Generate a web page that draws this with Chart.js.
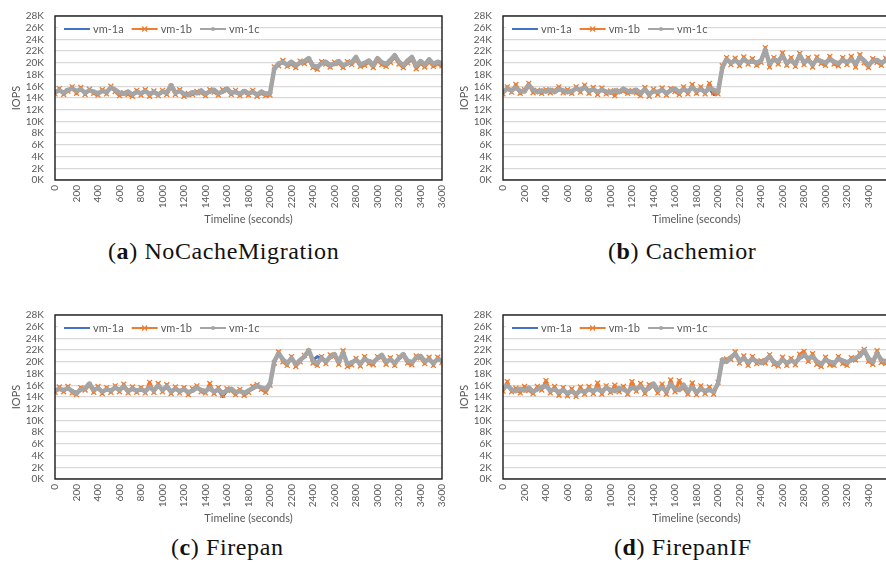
<!DOCTYPE html>
<html lang="en">
<head>
<meta charset="UTF-8">
<title>IOPS timelines</title>
<script src="https://cdn.jsdelivr.net/npm/chart.js"></script>
<style>
    html, body { margin: 0; padding: 0; background: #fff; }
    body { width: 886px; height: 568px; overflow: hidden; position: relative; }
    .panel { position: absolute; width: 450px; height: 226px; }
    .panel canvas { width: 450px; height: 226px; display: block; }
    .cap { position: absolute; font-family: "Liberation Serif", serif; font-size: 24px; letter-spacing: 0.6px; color: #111; white-space: nowrap; }
    .cap b { font-weight: bold; }
</style>
</head>
<body>
<div class="panel" style="left:0px;top:0px"><canvas id="chartA" width="450" height="226"></canvas></div>
<div class="panel" style="left:448px;top:0px"><canvas id="chartB" width="450" height="226"></canvas></div>
<div class="panel" style="left:0px;top:299px"><canvas id="chartC" width="450" height="226"></canvas></div>
<div class="panel" style="left:448px;top:299px"><canvas id="chartD" width="450" height="226"></canvas></div>
<div class="cap" style="left:108px;top:238px">(<b>a</b>) NoCacheMigration</div>
<div class="cap" style="left:608px;top:238px">(<b>b</b>) Cachemior</div>
<div class="cap" style="left:171px;top:534px">(<b>c</b>) Firepan</div>
<div class="cap" style="left:614px;top:534px">(<b>d</b>) FirepanIF</div>

<script>
// seconds
const times = [
    0, 40, 80, 120, 160, 200, 240, 280, 320, 360,
    400, 440, 480, 520, 560, 600, 640, 680, 720, 760,
    800, 840, 880, 920, 960, 1000, 1040, 1080, 1120, 1160,
    1200, 1240, 1280, 1320, 1360, 1400, 1440, 1480, 1520, 1560,
    1600, 1640, 1680, 1720, 1760, 1800, 1840, 1880, 1920, 1960,
    2000, 2040, 2080, 2120, 2160, 2200, 2240, 2280, 2320, 2360,
    2400, 2440, 2480, 2520, 2560, 2600, 2640, 2680, 2720, 2760,
    2800, 2840, 2880, 2920, 2960, 3000, 3040, 3080, 3120, 3160,
    3200, 3240, 3280, 3320, 3360, 3400, 3440, 3480, 3520, 3560,
    3600
];
const seriesNames = ['vm-1a', 'vm-1b', 'vm-1c'];

// IOPS in thousands
// (a) NoCacheMigration
const noCache1a = [
    15.1, 15.2, 15.0, 15.3, 15.5, 15.1, 15.4, 15.0, 15.2, 15.0,
    14.9, 15.1, 15.1, 15.7, 15.3, 15.0, 14.8, 15.0, 14.7, 15.1,
    14.9, 15.1, 14.8, 15.1, 14.7, 15.0, 15.0, 16.0, 15.0, 15.1,
    14.8, 14.6, 14.9, 14.9, 15.2, 14.8, 15.0, 15.3, 14.9, 15.0,
    15.5, 15.0, 15.0, 14.8, 15.1, 14.9, 15.0, 14.7, 15.0, 14.8,
    14.9, 18.8, 19.8, 20.0, 19.8, 20.1, 19.7, 19.9, 20.2, 20.7,
    19.6, 19.4, 19.8, 20.1, 19.7, 19.9, 20.2, 19.6, 19.8, 20.0,
    20.9, 19.8, 19.9, 20.3, 19.7, 20.7, 20.0, 19.9, 20.4, 21.2,
    20.1, 19.7, 20.3, 20.9, 19.6, 20.2, 19.8, 20.5, 19.9, 20.1,
    19.8
];
const noCache1b = [
    14.7, 15.6, 14.6, 15.2, 15.9, 14.8, 15.8, 14.6, 15.5, 14.8,
    14.5, 15.4, 14.7, 16.0, 15.1, 14.4, 14.9, 14.6, 14.3, 15.3,
    14.5, 15.4, 14.3, 15.2, 14.4, 15.3, 14.6, 15.9, 14.6, 15.4,
    14.3, 14.8, 14.6, 15.1, 14.9, 14.4, 15.4, 15.0, 14.5, 15.4,
    15.3, 14.6, 15.3, 14.4, 15.0, 14.5, 15.3, 14.3, 14.8, 14.4,
    14.5, 19.3, 19.5, 20.4, 19.4, 19.8, 19.2, 20.3, 19.9, 20.5,
    19.2, 18.9, 20.2, 19.8, 19.3, 20.1, 19.9, 19.2, 20.2, 19.7,
    20.6, 19.4, 19.6, 20.1, 19.2, 20.4, 19.7, 19.4, 20.1, 20.9,
    19.8, 19.2, 20.0, 20.6, 19.0, 19.9, 19.3, 20.2, 19.4, 19.8,
    19.5
];
const noCache1c = [
    15.0, 15.3, 14.9, 15.4, 15.6, 15.2, 15.5, 14.9, 15.3, 15.1,
    14.8, 15.2, 15.0, 15.8, 15.4, 14.9, 14.7, 15.1, 14.6, 15.0,
    14.8, 15.2, 14.7, 15.0, 14.6, 15.1, 14.9, 16.2, 14.9, 15.2,
    14.7, 14.5, 15.0, 14.8, 15.3, 14.7, 15.1, 15.4, 14.8, 15.1,
    15.6, 14.9, 15.0, 14.7, 15.2, 14.8, 15.0, 14.6, 15.1, 14.7,
    14.8, 19.0, 19.9, 20.1, 19.7, 20.2, 19.6, 20.0, 20.3, 20.8,
    19.5, 19.3, 19.9, 20.2, 19.6, 19.8, 20.3, 19.5, 19.9, 20.1,
    21.0, 19.7, 20.0, 20.4, 19.6, 20.8, 20.1, 19.8, 20.5, 21.3,
    20.2, 19.6, 20.4, 21.0, 19.5, 20.3, 19.7, 20.6, 19.8, 20.2,
    19.9
];

// (b) Cachemior
const cachemior1a = [
    15.1, 15.5, 15.2, 15.7, 15.1, 15.2, 16.0, 15.3, 15.1, 15.2,
    15.2, 15.3, 15.1, 15.4, 15.2, 15.1, 15.1, 15.5, 15.3, 15.7,
    15.3, 15.4, 15.1, 15.3, 15.0, 15.0, 15.2, 15.1, 15.5, 15.1,
    15.1, 15.3, 14.9, 15.4, 14.7, 15.1, 15.1, 15.3, 14.9, 15.2,
    15.5, 15.1, 15.4, 15.2, 15.7, 15.3, 15.4, 15.1, 15.6, 14.6,
    14.8, 19.0, 20.5, 20.1, 20.3, 20.0, 20.5, 20.0, 20.2, 20.1,
    20.3, 22.0, 19.9, 20.5, 20.2, 21.0, 20.1, 20.3, 19.9, 21.1,
    20.2, 20.4, 19.8, 20.5, 20.2, 20.1, 20.6, 20.1, 20.0, 20.4,
    20.2, 20.5, 19.9, 20.8, 20.3, 19.7, 20.2, 20.4, 20.1, 20.3,
    20.1
];
const cachemior1b = [
    14.7, 15.9, 15.0, 16.3, 14.8, 15.4, 16.5, 14.9, 15.3, 14.8,
    15.4, 14.9, 15.3, 15.9, 14.9, 15.4, 14.8, 15.9, 15.0, 16.2,
    14.8, 15.8, 14.6, 15.7, 14.7, 15.2, 14.4, 15.3, 15.2, 14.8,
    15.3, 14.9, 14.4, 15.8, 14.3, 15.5, 14.6, 15.7, 14.5, 15.6,
    15.1, 14.6, 15.9, 14.7, 16.3, 14.8, 15.9, 14.7, 16.5, 14.9,
    14.7, 19.5, 20.9, 19.7, 20.8, 19.5, 21.0, 19.8, 20.7, 19.6,
    20.1, 22.6, 19.3, 20.9, 19.8, 21.7, 19.6, 20.9, 19.4, 21.6,
    19.7, 20.9, 19.3, 21.0, 19.9, 19.6, 21.1, 19.8, 19.5, 20.9,
    19.7, 21.1, 19.3, 21.4, 20.0, 19.2, 20.7, 20.1, 19.6, 20.8,
    20.5
];
const cachemior1c = [
    15.0, 15.6, 15.3, 15.8, 15.2, 15.1, 16.2, 15.4, 15.0, 15.3,
    15.1, 15.4, 15.0, 15.5, 15.3, 15.0, 15.2, 15.6, 15.4, 15.8,
    15.2, 15.5, 15.0, 15.4, 15.1, 14.9, 15.3, 15.0, 15.6, 15.2,
    15.0, 15.4, 14.8, 15.5, 14.6, 15.2, 15.0, 15.4, 14.8, 15.3,
    15.6, 15.0, 15.5, 15.1, 15.8, 15.2, 15.5, 15.0, 15.7, 15.4,
    15.0, 19.2, 20.6, 20.0, 20.4, 19.9, 20.6, 20.1, 20.3, 20.0,
    20.4, 22.2, 19.8, 20.6, 20.3, 21.2, 20.0, 20.4, 19.8, 21.3,
    20.1, 20.5, 19.7, 20.6, 20.3, 20.0, 20.7, 20.2, 19.9, 20.5,
    20.1, 20.6, 19.8, 21.0, 20.4, 19.6, 20.3, 20.5, 20.0, 20.4,
    20.2
];

// (c) Firepan
const firepan1a = [
    15.2, 15.3, 15.1, 15.4, 15.1, 14.8, 15.2, 15.4, 16.1, 15.3,
    15.4, 15.0, 15.2, 15.2, 15.5, 15.3, 15.6, 15.1, 15.3, 15.2,
    15.2, 15.1, 15.5, 15.2, 15.8, 15.3, 15.6, 15.0, 15.3, 15.1,
    15.2, 14.9, 15.0, 15.5, 15.1, 15.1, 15.4, 14.8, 15.2, 14.1,
    15.0, 15.3, 14.9, 15.1, 14.8, 15.0, 15.4, 15.8, 15.5, 15.3,
    16.1, 20.0, 21.3, 20.3, 19.9, 20.5, 19.7, 20.2, 20.8, 21.8,
    20.3, 20.9, 20.5, 20.2, 20.7, 21.1, 20.1, 21.4, 19.7, 20.0,
    20.2, 19.8, 20.4, 20.2, 20.0, 20.5, 21.1, 20.1, 20.3, 19.9,
    20.5, 21.2, 20.3, 20.0, 20.6, 20.9, 20.2, 20.3, 19.9, 20.4,
    20.1
];
const firepan1b = [
    14.8, 15.7, 14.9, 15.8, 14.7, 14.4, 15.6, 15.2, 16.0, 14.8,
    15.8, 14.6, 15.6, 14.8, 15.9, 14.9, 16.2, 14.7, 15.7, 14.8,
    15.6, 14.7, 16.5, 14.8, 16.3, 14.9, 16.1, 14.6, 15.7, 14.7,
    15.6, 14.4, 15.4, 15.9, 14.9, 14.7, 16.3, 14.6, 15.6, 14.3,
    15.4, 15.1, 14.4, 15.3, 14.3, 14.8, 15.8, 16.1, 15.3, 14.8,
    16.0, 19.8, 21.7, 20.0, 19.4, 20.9, 19.2, 20.0, 21.1, 21.8,
    19.8, 19.4, 20.9, 19.7, 21.2, 21.0, 19.6, 21.9, 19.2, 19.5,
    20.6, 19.3, 20.9, 19.7, 19.5, 20.9, 20.8, 19.6, 20.7, 19.4,
    20.9, 21.0, 19.8, 19.5, 21.0, 20.7, 19.7, 20.8, 19.4, 20.8,
    19.9
];
const firepan1c = [
    15.1, 15.4, 15.2, 15.5, 15.0, 14.6, 15.3, 15.5, 16.3, 15.2,
    15.5, 14.9, 15.3, 15.1, 15.6, 15.2, 15.8, 15.0, 15.4, 15.1,
    15.3, 15.0, 15.7, 15.1, 16.0, 15.2, 15.8, 14.9, 15.4, 15.0,
    15.3, 14.8, 15.1, 15.6, 15.2, 15.0, 15.5, 14.9, 15.3, 14.7,
    15.1, 15.4, 14.8, 15.0, 14.7, 15.1, 15.5, 15.9, 15.6, 15.4,
    16.2, 20.1, 21.5, 20.4, 19.8, 20.6, 19.6, 20.3, 20.9, 22.0,
    20.2, 19.8, 20.6, 20.1, 20.8, 21.3, 20.0, 21.6, 19.6, 19.9,
    20.3, 19.7, 20.5, 20.1, 19.9, 20.6, 21.2, 20.0, 20.4, 19.8,
    20.6, 21.3, 20.2, 19.9, 20.7, 21.0, 20.1, 20.4, 19.8, 20.5,
    20.2
];

// (d) FirepanIF
const firepanIF1a = [
    15.4, 15.9, 15.2, 15.1, 15.3, 15.2, 15.5, 15.0, 15.4, 15.6,
    15.8, 15.2, 15.4, 14.9, 15.3, 14.7, 15.1, 14.6, 15.2, 15.0,
    15.4, 15.1, 15.5, 15.0, 15.5, 15.3, 15.1, 15.4, 15.4, 15.0,
    15.5, 15.3, 15.7, 15.2, 15.4, 16.1, 15.3, 15.5, 15.1, 16.0,
    15.3, 15.3, 15.9, 15.1, 15.6, 14.9, 15.3, 15.1, 15.3, 14.7,
    16.2, 20.3, 20.1, 20.7, 21.2, 20.3, 20.5, 20.0, 20.4, 20.2,
    19.9, 20.2, 20.8, 20.1, 19.7, 20.3, 19.9, 20.1, 20.0, 20.6,
    21.0, 20.5, 20.8, 20.2, 19.7, 20.3, 20.1, 19.9, 20.4, 20.3,
    20.0, 20.2, 20.6, 20.9, 21.8, 20.5, 20.1, 21.3, 20.2, 20.2,
    20.1
];
const firepanIF1b = [
    15.0, 16.6, 14.9, 15.5, 14.7, 15.8, 15.1, 14.6, 15.8, 15.2,
    16.8, 14.7, 15.8, 14.3, 15.6, 14.2, 15.4, 14.1, 15.7, 14.5,
    15.8, 14.6, 16.4, 14.5, 15.9, 14.8, 16.0, 14.9, 15.8, 14.5,
    16.6, 15.0, 16.3, 14.6, 16.1, 15.9, 14.7, 16.2, 14.5, 16.9,
    14.9, 16.8, 15.5, 14.5, 16.4, 14.4, 15.9, 14.6, 15.7, 14.5,
    16.5, 20.1, 20.5, 20.4, 21.7, 19.8, 21.0, 19.4, 20.9, 19.7,
    20.2, 19.8, 21.2, 19.6, 19.3, 20.8, 19.4, 20.6, 19.5, 21.3,
    21.8, 20.1, 21.4, 19.6, 19.2, 20.8, 19.5, 19.4, 20.9, 19.7,
    19.4, 20.7, 20.3, 21.5, 22.1, 20.1, 19.6, 21.9, 19.9, 19.7,
    20.6
];
const firepanIF1c = [
    15.5, 16.0, 15.3, 15.0, 15.4, 15.1, 15.6, 14.9, 15.3, 15.7,
    15.9, 15.1, 15.3, 14.8, 15.2, 14.6, 15.0, 14.5, 15.1, 14.9,
    15.3, 15.0, 15.4, 14.9, 15.6, 15.2, 15.0, 15.5, 15.3, 14.9,
    15.6, 15.4, 15.8, 15.1, 15.5, 16.3, 15.2, 15.6, 15.0, 16.2,
    15.4, 15.2, 16.1, 15.0, 15.7, 14.8, 15.4, 15.0, 15.2, 14.9,
    16.3, 20.4, 20.0, 20.8, 21.4, 20.2, 20.6, 19.9, 20.5, 20.1,
    19.8, 20.3, 20.9, 20.0, 19.6, 20.4, 19.8, 20.2, 19.9, 20.7,
    21.2, 20.6, 20.9, 20.1, 19.6, 20.4, 20.0, 19.8, 20.5, 20.2,
    19.9, 20.3, 20.7, 21.0, 22.0, 20.6, 20.0, 21.5, 20.3, 20.1,
    20.2
];

const BLUE = '#4472C4', ORANGE = '#ED7D31', GRAY = '#A5A5A5', TXT = '#595959';
const tickFont = { family: 'Lato', size: 10 };
const titleFont = { family: 'Lato', size: 11 };

function pts(vals) {
    return times.map((t, i) => ({ x: t, y: vals[i] }));
}

// black frame round the plot area
const frame = {
    id: 'frame',
    afterDatasetsDraw(chart) {
        const a = chart.chartArea, ctx = chart.ctx;
        ctx.save();
        ctx.strokeStyle = '#1a1a1a';
        ctx.lineWidth = 1.4;
        ctx.strokeRect(a.left, a.top, a.right - a.left, a.bottom - a.top);
        ctx.restore();
    }
};

// legend inside the plot, top left
const innerLegend = {
    id: 'innerLegend',
    afterDraw(chart) {
        const a = chart.chartArea, ctx = chart.ctx;
        const y = a.top + 13;
        ctx.save();
        ctx.fillStyle = '#fff';
        ctx.fillRect(a.left + 3, y - 6, 198, 12);
        ctx.font = '11px Lato';
        ctx.textBaseline = 'middle';
        let x = a.left + 9;
        chart.data.datasets.forEach(ds => {
            ctx.strokeStyle = ds.borderColor;
            ctx.lineWidth = 2;
            ctx.beginPath();
            ctx.moveTo(x, y);
            ctx.lineTo(x + 26, y);
            ctx.stroke();
            const mx = x + 13;
            if (ds.pointStyle === 'crossRot') {
                ctx.lineWidth = 1.2;
                ctx.beginPath();
                ctx.moveTo(mx - 2.5, y - 2.5); ctx.lineTo(mx + 2.5, y + 2.5);
                ctx.moveTo(mx - 2.5, y + 2.5); ctx.lineTo(mx + 2.5, y - 2.5);
                ctx.stroke();
            } else if (ds.pointRadius > 0) {
                ctx.fillStyle = ds.borderColor;
                ctx.beginPath();
                ctx.arc(mx, y, 2, 0, Math.PI * 2);
                ctx.fill();
            }
            x += 29;
            ctx.fillStyle = TXT;
            ctx.fillText(ds.label, x, y + 0.5);
            x += ctx.measureText(ds.label).width + 8;
        });
        ctx.restore();
    }
};

function makeChart(id, v1a, v1b, v1c) {
    new Chart(document.getElementById(id), {
        type: 'line',
        data: {
            datasets: [
                { label: seriesNames[0], data: pts(v1a), borderColor: BLUE, backgroundColor: BLUE,
                  borderWidth: 3, pointRadius: 0, order: 3 },
                { label: seriesNames[1], data: pts(v1b), borderColor: ORANGE, backgroundColor: ORANGE,
                  borderWidth: 3, pointStyle: 'crossRot', pointRadius: 3.5, pointBorderWidth: 1.3, order: 2 },
                { label: seriesNames[2], data: pts(v1c), borderColor: GRAY, backgroundColor: GRAY,
                  borderWidth: 4.5, pointStyle: 'circle', pointRadius: 2, pointBorderWidth: 0, order: 1 }
            ]
        },
        options: {
            responsive: false,
            animation: false,
            layout: { padding: { top: 16, right: 8, left: 0, bottom: 0 } },
            elements: { line: { tension: 0, borderJoinStyle: 'round' } },
            plugins: { legend: { display: false }, tooltip: { enabled: false } },
            scales: {
                x: {
                    type: 'linear', min: 0, max: 3600,
                    afterFit(s) { s.height = 46; s.paddingLeft = 0; s.paddingRight = 0; },
                    grid: { display: false, drawTicks: false },
                    border: { display: false },
                    ticks: { stepSize: 200, autoSkip: false, maxRotation: 90, minRotation: 90,
                             padding: 5, color: TXT, font: tickFont,
                             callback: v => String(v) },
                    title: { display: true, text: 'Timeline (seconds)', color: TXT, font: titleFont, padding: 0 }
                },
                y: {
                    min: 0, max: 28,
                    afterFit(s) { s.width = 55; s.paddingTop = 0; s.paddingBottom = 0; },
                    grid: { color: '#d9d9d9', lineWidth: 1.3, drawTicks: false },
                    border: { display: false },
                    ticks: { stepSize: 2, autoSkip: false, padding: 11, color: TXT, font: tickFont,
                             callback: v => v + 'K' },
                    title: { display: true, text: 'IOPS', color: TXT, font: titleFont,
                             padding: { top: 10, bottom: 0 } }
                }
            }
        },
        plugins: [frame, innerLegend]
    });
}

makeChart('chartA', noCache1a, noCache1b, noCache1c);
makeChart('chartB', cachemior1a, cachemior1b, cachemior1c);
makeChart('chartC', firepan1a, firepan1b, firepan1c);
makeChart('chartD', firepanIF1a, firepanIF1b, firepanIF1c);
</script>
</body>
</html>
